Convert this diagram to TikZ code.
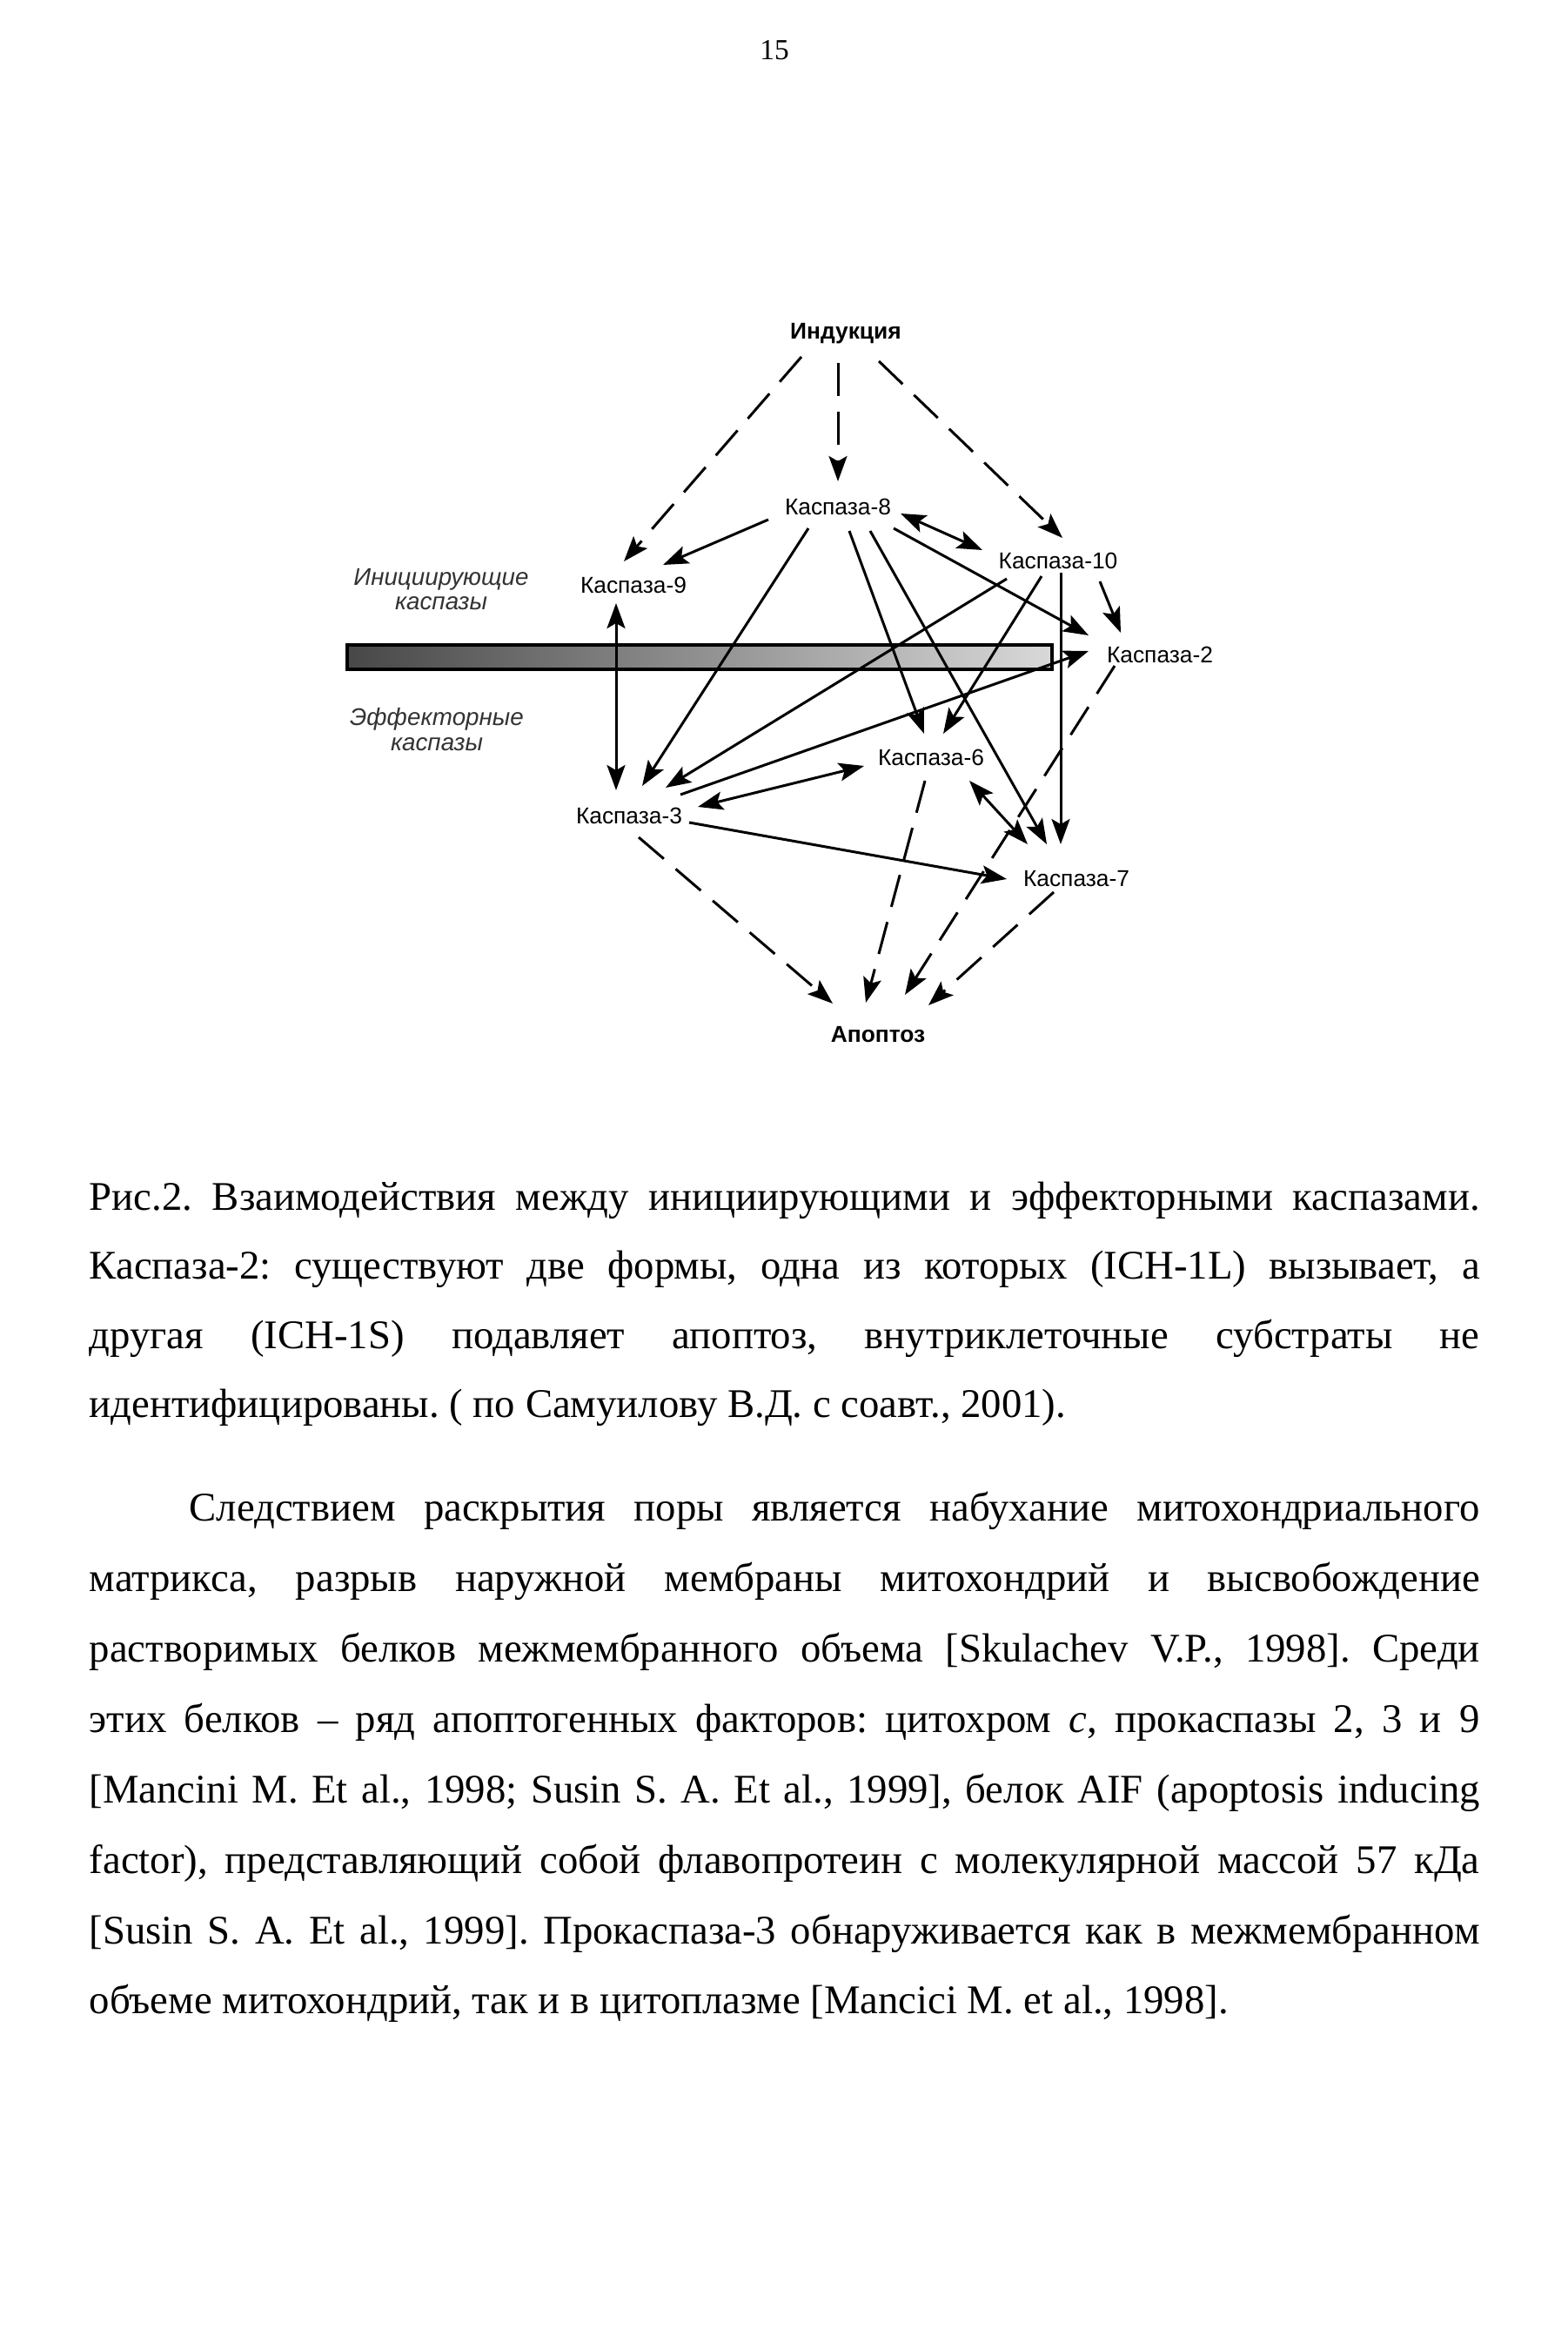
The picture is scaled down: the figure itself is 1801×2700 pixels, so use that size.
\documentclass[tikz,border=0pt]{standalone}
\usepackage{fontspec}
\setmainfont{Liberation Serif}
\newfontfamily\arialfont{Liberation Sans}
\usepackage{tikz}
\usetikzlibrary{arrows.meta, calc}
\frenchspacing

\begin{document}
\begin{tikzpicture}[
    x=0.1mm, y=-0.1mm,
    lbl/.style={inner sep=0pt, text height=1.8mm, text depth=0pt, font=\arialfont\fontsize{7.5pt}{8pt}\selectfont},
    head/.style={lbl, font=\arialfont\bfseries\fontsize{7.5pt}{8pt}\selectfont},
    side/.style={anchor=base, inner sep=0pt, text=black!80, font=\arialfont\itshape\fontsize{7.9pt}{8pt}\selectfont},
    arr/.style={-{Stealth[length=2.9mm, width=2.1mm, inset=0.6mm]}, line width=0.3mm},
    dbl/.style={{Stealth[length=2.9mm, width=2.1mm, inset=0.6mm]}-{Stealth[length=2.9mm, width=2.1mm, inset=0.6mm]}, line width=0.3mm},
    darr/.style={arr, dash pattern=on 3.8mm off 1.8mm},
    txt/.style={anchor=base west, inner sep=0pt, font=\fontsize{13.3pt}{15pt}\selectfont}
]
\useasboundingbox[fill=white] (0,0) rectangle (1801,2700);

\node[anchor=base, inner sep=0pt, font=\fontsize{9.5pt}{10pt}\selectfont] (pagenum) at (890,69) {15};

% shaded bar between the two groups
\node[draw, line width=0.4mm, left color=black!72, right color=black!15, inner sep=0pt, minimum width=81mm, minimum height=2.8mm, anchor=north west] (bar) at (397,739) {};

\node[side] (init1) at (507,673) {Инициирующие};
\node[side] (init2) at (507,700) {каспазы};
\node[side] (eff1) at (502,833) {Эффекторные};
\node[side] (eff2) at (502,862) {каспазы};

\node[head] (ind) at (972,381) {Индукция};
\node[lbl] (k8) at (963,583) {Каспаза-8};
\node[lbl] (k9) at (728,673) {Каспаза-9};
\node[lbl] (k10) at (1216,644) {Каспаза-10};
\node[lbl] (k2) at (1333,752) {Каспаза-2};
\node[lbl] (k6) at (1070,870) {Каспаза-6};
\node[lbl] (k3) at (723,937) {Каспаза-3};
\node[lbl] (k7) at (1237,1009) {Каспаза-7};
\node[head] (apo) at (1009,1188) {Апоптоз};

% induction and apoptosis (dashed)
\draw[darr] ($(ind)+(-51,29)$) -- ($(k9)+(-11,-28)$);
\draw[darr] ($(ind)+(-9,36)$) -- ($(k8)+(0,-30)$);
\draw[darr] ($(ind)+(38,34)$) -- ($(k10)+(5,-26)$);
\draw[darr] ($(k3)+(11,25)$) -- ($(apo)+(-52,-35)$);
\draw[darr] ($(k6)+(-7,27)$) -- ($(apo)+(-14,-36)$);
\draw[darr] ($(k2)+(-52,13)$) -- ($(apo)+(31,-45)$);
\draw[darr] ($(k7)+(-26,16)$) -- ($(apo)+(58,-33)$);

% initiator caspases
\draw[arr] ($(k8)+(-80,14)$) -- ($(k9)+(34,-24)$);
\draw[dbl] ($(k8)+(72,7)$) -- ($(k10)+(-87,-12)$);
\draw[arr] ($(k8)+(64,24)$) -- ($(k2)+(-82,-22)$);
\draw[arr] ($(k10)+(48,24)$) -- ($(k2)+(-45,-25)$);
\draw[arr] ($(k10)+(3,14)$) -- ($(k7)+(-18,-39)$);
\draw[dbl] ($(k9)+(-20,20)$) -- ($(k3)+(-15,-29)$);
\draw[arr] ($(k8)+(-34,24)$) -- ($(k3)+(15,-34)$);
\draw[arr] ($(k10)+(-59,21)$) -- ($(k3)+(42,-32)$);
\draw[arr] ($(k8)+(13,27)$) -- ($(k6)+(-8,-27)$);
\draw[arr] ($(k10)+(-19,18)$) -- ($(k6)+(14,-27)$);
\draw[arr] ($(k8)+(37,27)$) -- ($(k7)+(-34,-39)$);

% effector caspases
\draw[arr] ($(k3)+(59,-24)$) -- ($(k2)+(-82,-4)$);
\draw[dbl] ($(k3)+(79,-10)$) -- ($(k6)+(-77,10)$);
\draw[dbl] ($(k6)+(44,27)$) -- ($(k7)+(-56,-39)$);
\draw[arr] ($(k3)+(69,8)$) -- ($(k7)+(-80,1)$);

% caption
\node[txt] (cap1) at (102,1390) {\makebox[159.8mm][s]{Рис.2. Взаимодействия между инициирующими и эффекторными каспазами.}};
\node[txt] (cap2) at (102,1469) {\makebox[159.8mm][s]{Каспаза-2: существуют две формы, одна из которых (ICH-1L) вызывает, а}};
\node[txt] (cap3) at (102,1549) {\makebox[159.8mm][s]{другая (ICH-1S) подавляет апоптоз, внутриклеточные субстраты не}};
\node[txt] (cap4) at (102,1628) {идентифицированы. ( по Самуилову В.Д. с соавт., 2001).};

% body text
\node[txt] (par1) at (217,1747) {\makebox[148.3mm][s]{Следствием раскрытия поры является набухание митохондриального}};
\node[txt] (par2) at (102,1828) {\makebox[159.8mm][s]{матрикса, разрыв наружной мембраны митохондрий и высвобождение}};
\node[txt] (par3) at (102,1909) {\makebox[159.8mm][s]{растворимых белков межмембранного объема [Skulachev V.P., 1998]. Среди}};
\node[txt] (par4) at (102,1990) {\makebox[159.8mm][s]{этих белков -- ряд апоптогенных факторов: цитохром \textit{c}, прокаспазы 2, 3 и 9}};
\node[txt] (par5) at (102,2071) {\makebox[159.8mm][s]{[Mancini M. Et al., 1998; Susin S. A. Et al., 1999], белок AIF (apoptosis inducing}};
\node[txt] (par6) at (102,2152) {\makebox[159.8mm][s]{factor), представляющий собой флавопротеин с молекулярной массой 57 кДа}};
\node[txt] (par7) at (102,2233) {\makebox[159.8mm][s]{[Susin S. A. Et al., 1999]. Прокаспаза-3 обнаруживается как в межмембранном}};
\node[txt] (par8) at (102,2313) {объеме митохондрий, так и в цитоплазме [Mancici M. et al., 1998].};

\end{tikzpicture}
\end{document}
